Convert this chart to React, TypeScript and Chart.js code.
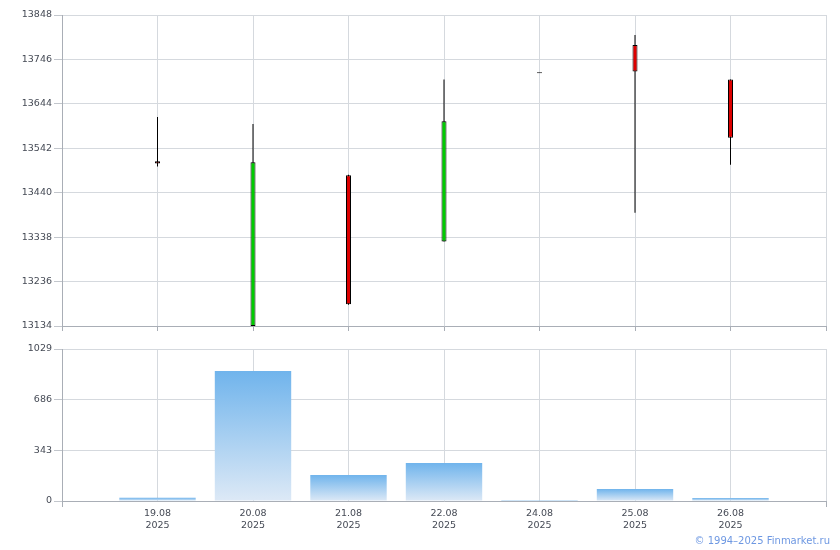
import React, { useEffect, useRef } from "react";
import { Chart, registerables } from "chart.js";

Chart.register(...registerables);

const dates = ["19.08", "20.08", "21.08", "22.08", "24.08", "25.08", "26.08"];
const year = "2025";
const openPrices = [13512, 13134, 13480, 13328, 13714, 13779, 13700];
const closePrices = [13507, 13510, 13184, 13604, 13714, 13718, 13566];
const highPrices = [13614, 13598, 13481, 13700, 13714, 13802, 13700];
const lowPrices = [13500, 13134, 13183, 13328, 13714, 13394, 13504];
const volumes = [22, 880, 176, 257, 6, 81, 20];
const priceTicks = [13134, 13236, 13338, 13440, 13542, 13644, 13746, 13848];
const volumeTicks = [0, 343, 686, 1029];
const xTickValues = [0, 1, 2, 3, 4, 5, 6, 7, 8];

const FONT = { family: "'DejaVu Sans', Verdana, sans-serif", size: 9.5 };
const LABEL_COLOR = "#454a55";
const GRID_COLOR = "#d5d9de";
const AXIS_COLOR = "#a9aeb6";
const RED = "#dd0000";
const GREEN = "#00cc00";

export default function App() {
  const topRef = useRef<HTMLCanvasElement | null>(null);
  const botRef = useRef<HTMLCanvasElement | null>(null);

  useEffect(() => {
    const setTicks = (vals: number[]) => (s: any) => {
      s.ticks = vals.map((v) => ({ value: v }));
    };

    const bodyColors = openPrices.map((o, i) => (closePrices[i] >= o ? GREEN : RED));

    const top = new Chart(topRef.current as HTMLCanvasElement, {
      type: "bar",
      data: {
        datasets: [
          {
            label: "body",
            data: dates.map((_, i) => ({ x: i + 1, y: [openPrices[i], closePrices[i]] })) as any,
            backgroundColor: bodyColors,
            borderColor: "#000000",
            borderWidth: 1,
            borderSkipped: false,
            maxBarThickness: 5,
            minBarLength: 1,
            grouped: false,
          } as any,
          {
            label: "wick",
            data: dates.map((_, i) => ({ x: i + 1, y: [lowPrices[i], highPrices[i]] })) as any,
            backgroundColor: "#000000",
            borderWidth: 0,
            maxBarThickness: 1,
            grouped: false,
          } as any,
        ],
      },
      options: {
        animation: false,
        responsive: false,
        events: [],
        layout: { padding: { top: 15, right: 14, left: 0, bottom: 0 } },
        plugins: { legend: { display: false }, tooltip: { enabled: false } },
        scales: {
          x: {
            type: "linear",
            min: 0,
            max: 8,
            offset: false,
            afterBuildTicks: setTicks(xTickValues),
            afterFit: (s: any) => {
              s.height = 12;
            },
            ticks: { display: false },
            grid: { offset: false, color: GRID_COLOR, tickLength: 5, tickColor: AXIS_COLOR },
            border: { color: AXIS_COLOR },
          },
          y: {
            type: "linear",
            min: priceTicks[0],
            max: priceTicks[priceTicks.length - 1],
            afterBuildTicks: setTicks(priceTicks),
            afterFit: (s: any) => {
              s.width = 62;
            },
            ticks: { callback: (v: any) => String(v), color: LABEL_COLOR, font: FONT, padding: 2 },
            grid: { color: GRID_COLOR, tickLength: 8, tickColor: "#c2c6cc" },
            border: { color: AXIS_COLOR },
          },
        },
      } as any,
    });

    const bot = new Chart(botRef.current as HTMLCanvasElement, {
      type: "bar",
      data: {
        datasets: [
          {
            label: "volume",
            data: volumes.map((v, i) => ({ x: i + 1, y: v })) as any,
            backgroundColor: (ctx: any) => {
              const chart = ctx.chart;
              const ys = chart.scales && chart.scales.y;
              if (!ys || ctx.type !== "data") return "#8cc2ef";
              const v = ctx.parsed ? ctx.parsed.y : volumes[ctx.dataIndex];
              const yTop = ys.getPixelForValue(v);
              const yBase = ys.getPixelForValue(0);
              if (!isFinite(yTop) || !isFinite(yBase) || yTop === yBase) return "#8cc2ef";
              const g = chart.ctx.createLinearGradient(0, yTop, 0, yBase);
              g.addColorStop(0, "#70b4ec");
              g.addColorStop(1, "#dde9f6");
              return g;
            },
            borderWidth: 0,
            barPercentage: 0.8,
            categoryPercentage: 1,
            grouped: false,
          } as any,
        ],
      },
      options: {
        animation: false,
        responsive: false,
        events: [],
        layout: { padding: { top: 11, right: 14, left: 0, bottom: 0 } },
        plugins: { legend: { display: false }, tooltip: { enabled: false } },
        scales: {
          x: {
            type: "linear",
            min: 0,
            max: 8,
            offset: false,
            afterBuildTicks: setTicks(xTickValues),
            afterFit: (s: any) => {
              s.height = 49;
            },
            ticks: {
              autoSkip: false,
              maxRotation: 0,
              padding: 1,
              color: LABEL_COLOR,
              font: { ...FONT, lineHeight: 1.25 },
              callback: (v: any) => {
                const n = Number(v);
                return n >= 1 && n <= dates.length ? [dates[n - 1], year] : "";
              },
            },
            grid: {
              offset: false,
              color: GRID_COLOR,
              tickLength: 6,
              tickColor: (ctx: any) =>
                ctx.tick && (ctx.tick.value === 0 || ctx.tick.value === 8) ? AXIS_COLOR : "rgba(0,0,0,0)",
            },
            border: { color: AXIS_COLOR },
          },
          y: {
            type: "linear",
            min: volumeTicks[0],
            max: volumeTicks[volumeTicks.length - 1],
            afterBuildTicks: setTicks(volumeTicks),
            afterFit: (s: any) => {
              s.width = 62;
            },
            ticks: { callback: (v: any) => String(v), color: LABEL_COLOR, font: FONT, padding: 2 },
            grid: { color: GRID_COLOR, tickLength: 8, tickColor: "#c2c6cc" },
            border: { color: AXIS_COLOR },
          },
        },
      } as any,
    });

    return () => {
      top.destroy();
      bot.destroy();
    };
  }, []);

  return (
    <div style={{ position: "fixed", left: 0, top: 0, width: 840, height: 550, background: "#ffffff" }}>
      <canvas
        ref={topRef}
        width={840}
        height={338}
        style={{ position: "absolute", left: 0, top: 0, display: "block" }}
      />
      <canvas
        ref={botRef}
        width={840}
        height={212}
        style={{ position: "absolute", left: 0, top: 338, display: "block" }}
      />
      <div
        style={{
          position: "absolute",
          right: 10,
          top: 535,
          fontFamily: "'DejaVu Sans', Verdana, sans-serif",
          fontSize: 10,
          lineHeight: "12px",
          color: "#6e98e2",
          whiteSpace: "nowrap",
        }}
      >
        © 1994–2025 Finmarket.ru
      </div>
    </div>
  );
}
